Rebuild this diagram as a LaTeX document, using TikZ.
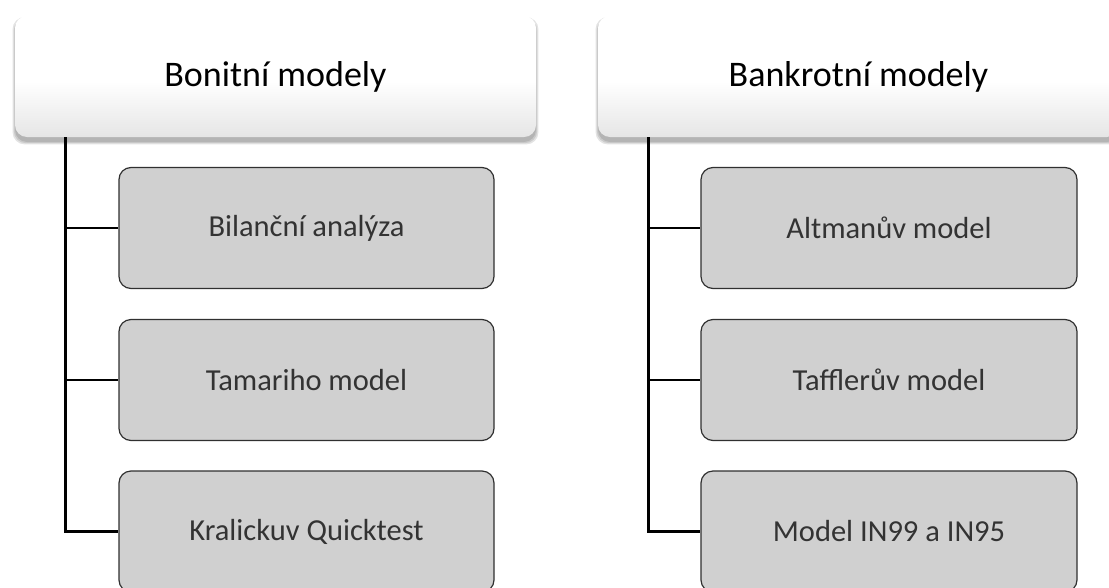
\documentclass[tikz,border=0pt]{standalone}
\usepackage{fontspec}
\setmainfont{Carlito}
\usetikzlibrary{shadows,calc}
\definecolor{childfill}{HTML}{D0D0D0}
\definecolor{childtext}{HTML}{333333}
\definecolor{childedge}{HTML}{303030}
\pgfdeclareverticalshading{parentshade}{100bp}{%
  color(0bp)=(black!10); color(25bp)=(black!10); color(48bp)=(white);
  color(75bp)=(white); color(100bp)=(white)}
\tikzset{
  parentbox/.style={rounded corners=12pt, minimum width=521pt, minimum height=121pt,
    shading=parentshade, inner sep=0pt,
    font=\fontsize{36}{40}\selectfont, text=black},
  pshadow/.style={rounded corners=12pt, fill=black, fill opacity=0.11},
  childbox/.style={rounded corners=12pt, minimum width=375pt, minimum height=121pt,
    fill=childfill, draw=childedge, line width=1.2pt, inner sep=0pt,
    font=\fontsize{30.5}{34}\selectfont, text=childtext},
  conn/.style={draw=black, line width=2.9pt}
}
\begin{document}
\begin{tikzpicture}[x=1pt,y=1pt]
\useasboundingbox (0,0) rectangle (1109,-587);
\clip (0,0) rectangle (1109,-587);
% soft shadows under the parent boxes
\foreach \cx in {275.5,858.5}{
  \foreach \g in {0,1.2,2.4}{
    \fill[pshadow] (\cx-260.5-\g,-19.5+\g) rectangle (\cx+260.5+\g,-142-\g);
  }
}
% left branch
\node[parentbox] (p1) at (275.5,-76.5) {Bonitní modely};
\node[childbox] (c1) at (306.5,-228) {Bilanční analýza};
\node[childbox] (c2) at (306.5,-380) {Tamariho model};
\node[childbox] (c3) at (306.5,-531.5) {Kralickuv Quicktest};
\coordinate (s1) at ([xshift=51pt]p1.south west);
\draw[conn] (s1) |- (c3.west);
\draw[conn] (s1 |- c1.west) -- (c1.west);
\draw[conn] (s1 |- c2.west) -- (c2.west);
% right branch
\node[parentbox] (p2) at (858.5,-76.5) {Bankrotní modely};
\node[childbox, minimum width=376pt] (d1) at (889,-228) {Altmanův model};
\node[childbox, minimum width=376pt] (d2) at (889,-380) {Tafflerův model};
\node[childbox, minimum width=376pt] (d3) at (889,-531.5) {Model IN99 a IN95};
\coordinate (s2) at ([xshift=51pt]p2.south west);
\draw[conn] (s2) |- (d3.west);
\draw[conn] (s2 |- d1.west) -- (d1.west);
\draw[conn] (s2 |- d2.west) -- (d2.west);
\end{tikzpicture}
\end{document}
